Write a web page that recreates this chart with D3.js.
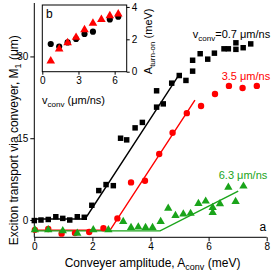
<!DOCTYPE html>
<html><head><meta charset="utf-8">
<script src="https://cdn.jsdelivr.net/npm/d3@7"></script>
<style>
body{margin:0;background:#fff;}
svg{display:block;font-family:"Liberation Sans",Arial,sans-serif;}
</style></head>
<body><svg id="c" width="273" height="275"></svg>
<script>
// ---- Main panel (a) data: Conveyer amplitude (meV) vs M1 (um)
const blackA = [0,0.23,0.48,0.74,0.98,1.22,1.48,1.72,1.98,2.22,2.47,2.72,2.97,3.18,3.47,3.72,4.21,4.44,4.21,4.73,4.99,5.22,5.45,5.45,5.71,5.97,6.2,6.53,6.68,6.94,6.94,7.19,7.45];
const blackM = [-0.1,0,0.1,0.6,0.3,0,0.6,0.5,2.7,5.4,6.5,6.3,15.0,14.7,16.9,17.9,20.7,21.3,23.7,25.1,26.5,25.6,27.3,29.3,30.5,29.5,30.6,31.4,31.4,32.5,31.3,31.6,32.3];
const redA = [0.02,0.48,0.94,1.4,1.89,2.38,2.86,3.33,3.81,4.3,4.76,5.25,5.74,6.22,6.7,7.17,7.66];
const redM = [-1.8,-1.65,-2.5,-2.4,-2.2,-1.5,0.3,6.9,7.2,12.1,16.0,19.6,20.9,23.1,24.6,24.2,24.6];
const greenA = [0.02,0.48,0.98,1.48,2.03,2.55,3.06,3.33,3.58,3.83,4.07,4.35,4.61,4.86,5.13,5.38,5.65,5.9,6.14,6.14,6.39,6.68,6.93,7.2];
const greenM = [-1.8,-1.8,-2.0,-2.45,-1.8,-1.8,-0.3,-1.4,-1.3,-1.4,-1.4,-0.3,2.15,0.8,1.1,1.2,3.0,3.45,2.3,1.35,2.95,6.0,3.4,6.2];
// fit lines (piecewise)
const blackFitA = [0,1.75,4.98], blackFitM = [0.2,0.2,26.6];
const redFitA = [0,2.61,5.53], redFitM = [-1.85,-1.85,22.0];
const greenFitA = [0,4.33,7.02], greenFitM = [-2.0,-2.0,5.3];
const mainXTicks = [0,2,4,6,8];
const mainYTicks = [0,15,30];

// ---- Inset (b) data: v_conv (um/ns) vs A_turn-on (meV)
const insetCircV = [0.7,1.4,2.1,2.8,3.5,4.2,5.6,6.3];
const insetCircA = [1.71,1.55,1.81,2.02,2.33,2.47,3.23,3.40];
const insetTriV = [0.7,1.4,2.1,2.8,3.5,4.2,4.9,5.6,6.3];
const insetTriA = [0.66,1.40,1.79,2.12,2.59,2.99,3.23,3.46,3.56];
const insetXTicks = [0,3,6];
const insetYTicks = [0,2,4];

const RED = "#ff0000", GREEN = "#1aa41a";
const svg = d3.select("#c");

// main scales
const x = d3.scaleLinear().domain([0,8]).range([34.3,266.7]);
const y = d3.scaleLinear().domain([-3.17,39.8]).range([237.3,3]);

// axes
const gx = svg.append("g").attr("transform",`translate(0,${y.range()[0]})`)
  .call(d3.axisBottom(x).tickValues(mainXTicks).tickSize(4).tickPadding(2).tickFormat(d3.format("d")));
const gy = svg.append("g").attr("transform",`translate(${x.range()[0]},0)`)
  .call(d3.axisLeft(y).tickValues(mainYTicks).tickSize(4).tickPadding(2).tickFormat(d3.format("d")));
[gx,gy].forEach(g=>{
  g.select(".domain").attr("stroke","#000").attr("stroke-width",1);
  g.selectAll(".tick line").attr("stroke","#000");
  g.selectAll(".tick text").attr("font-size",10).attr("fill","#000").attr("font-family","Liberation Sans, Arial, sans-serif");
});
gx.select(".domain").attr("d",`M${x.range()[0]},0H${x.range()[1]}`);
gy.select(".domain").attr("d",`M0,${y.range()[0]}V${y.range()[1]}`);

// fit lines
const line = d3.line().x(d=>x(d[0])).y(d=>y(d[1]));
function fit(A,M,col){
  svg.append("path").attr("d",line(A.map((a,i)=>[a,M[i]]))).attr("fill","none").attr("stroke",col).attr("stroke-width",1.4);
}
fit(blackFitA,blackFitM,"#000");
fit(redFitA,redFitM,RED);
fit(greenFitA,greenFitM,GREEN);

// markers
const circ = d3.symbol().type(d3.symbolCircle).size(32);
const sq = d3.symbol().type(d3.symbolSquare).size(30);
const tri = d3.symbol().type(d3.symbolTriangle).size(30);
function pts(A,M,sym,col){
  svg.append("g").selectAll("path").data(A.map((a,i)=>[a,M[i]])).join("path")
    .attr("transform",d=>`translate(${x(d[0])},${y(d[1])})`).attr("d",sym).attr("fill",col);
}
pts(redA,redM,circ,RED);
pts(greenA,greenM,tri,GREEN);
pts(blackA,blackM,sq,"#000");

// annotations
const t1 = svg.append("text").attr("x",x(8.12)).attr("y",y(33.4)).attr("text-anchor","end").attr("font-size",11).attr("fill","#000");
t1.append("tspan").text("v");
t1.append("tspan").attr("font-size",8).attr("dy",3).text("conv");
t1.append("tspan").attr("dy",-3).text("=0.7 \u03bcm/ns");
svg.append("text").attr("x",x(8.12)).attr("y",y(25.6)).attr("text-anchor","end").attr("font-size",11).attr("fill",RED).text("3.5 \u03bcm/ns");
svg.append("text").attr("x",x(8.02)).attr("y",y(7.5)).attr("text-anchor","end").attr("font-size",11).attr("fill",GREEN).text("6.3 \u03bcm/ns");
svg.append("text").attr("x",x(7.87)).attr("y",y(-2.0)).attr("text-anchor","middle").attr("font-size",12).attr("fill","#000").text("a");

// axis titles
const xt = svg.append("text").attr("x",(x.range()[0]+x.range()[1])/2+2).attr("y",267).attr("text-anchor","middle").attr("font-size",12).attr("fill","#000");
xt.append("tspan").text("Conveyer amplitude, A");
xt.append("tspan").attr("font-size",9).attr("dy",3).text("conv");
xt.append("tspan").attr("dy",-3).text(" (meV)");
const yt = svg.append("text").attr("transform",`translate(18,${(y.range()[0]+y.range()[1])/2+20}) rotate(-90)`).attr("text-anchor","middle").attr("font-size",12).attr("fill","#000");
yt.append("tspan").text("Exciton transport via conveyer, M");
yt.append("tspan").attr("font-size",9).attr("dy",3).text("1");
yt.append("tspan").attr("dy",-3).text(" (\u03bcm)");

// ---- inset
const ix = d3.scaleLinear().domain([0,7]).range([42.3,126.7]);
const iy = d3.scaleLinear().domain([0,4.12]).range([71.7,5]);
svg.append("rect").attr("x",ix.range()[0]).attr("y",iy.range()[1]).attr("width",ix.range()[1]-ix.range()[0]).attr("height",iy.range()[0]-iy.range()[1]).attr("fill","#fff").attr("stroke","#000").attr("stroke-width",1);
const igx = svg.append("g").attr("transform",`translate(0,${iy.range()[0]})`)
  .call(d3.axisBottom(ix).tickValues(insetXTicks).tickSize(3).tickPadding(2).tickFormat(d3.format("d")));
const igy = svg.append("g").attr("transform",`translate(${ix.range()[1]},0)`)
  .call(d3.axisRight(iy).tickValues(insetYTicks).tickSize(3).tickPadding(2).tickFormat(d3.format("d")));
[igx,igy].forEach(g=>{
  g.select(".domain").remove();
  g.selectAll(".tick line").attr("stroke","#000");
  g.selectAll(".tick text").attr("font-size",10).attr("fill","#000").attr("font-family","Liberation Sans, Arial, sans-serif");
});
const icirc = d3.symbol().type(d3.symbolCircle).size(30);
const itri = d3.symbol().type(d3.symbolTriangle).size(32);
svg.append("g").selectAll("path").data(insetCircV.map((v,i)=>[v,insetCircA[i]])).join("path")
  .attr("transform",d=>`translate(${ix(d[0])},${iy(d[1])})`).attr("d",icirc).attr("fill","#000");
svg.append("g").selectAll("path").data(insetTriV.map((v,i)=>[v,insetTriA[i]])).join("path")
  .attr("transform",d=>`translate(${ix(d[0])},${iy(d[1])})`).attr("d",itri).attr("fill",RED);
svg.append("text").attr("x",ix(0.3)).attr("y",iy(3.33)).attr("font-size",12).attr("fill","#000").text("b");
const ixt = svg.append("text").attr("x",42).attr("y",104).attr("font-size",11).attr("fill","#000");
ixt.append("tspan").text("v");
ixt.append("tspan").attr("font-size",8).attr("dy",3).text("conv");
ixt.append("tspan").attr("dy",-3).text(" (\u03bcm/ns)");
const iyt = svg.append("text").attr("transform",`translate(152,${(iy.range()[0]+iy.range()[1])/2+3}) rotate(-90)`).attr("text-anchor","middle").attr("font-size",11).attr("fill","#000");
iyt.append("tspan").text("A");
iyt.append("tspan").attr("font-size",8).attr("dy",3).text("turn-on");
iyt.append("tspan").attr("dy",-3).text(" (meV)");
</script></body></html>
